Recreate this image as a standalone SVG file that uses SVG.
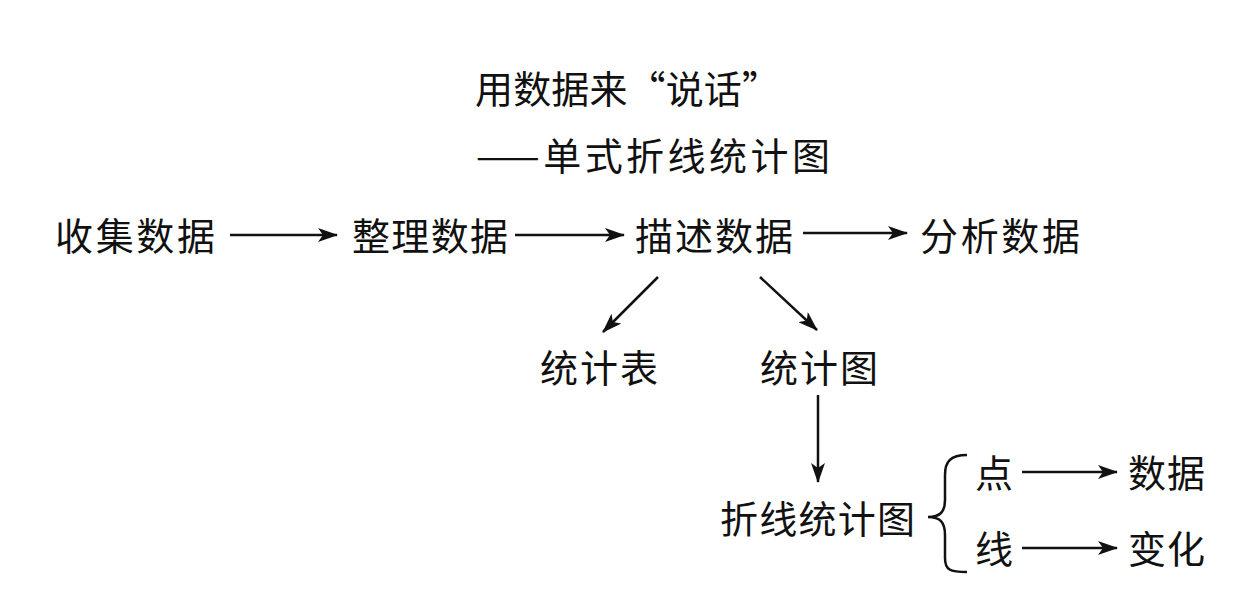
<svg xmlns="http://www.w3.org/2000/svg" width="1248" height="608" viewBox="0 0 1248 608">
<style>
text{font-family:"Noto Sans CJK SC","Noto Sans CJK JP",sans-serif;fill:#111;dominant-baseline:central;font-size:38px}
.c{stroke:#111;stroke-width:2.5;fill:none}
</style>
<defs>
<marker id="ah" viewBox="0 0 20 14" refX="19" refY="7" markerWidth="20" markerHeight="14" markerUnits="userSpaceOnUse" orient="auto">
<path d="M0,0 L20,7 L0,14 L5,7 Z" fill="#111"/>
</marker>
</defs>
<rect width="1248" height="608" fill="#fff"/>
<g id="title">
<text x="475" y="86" font-size="36" textLength="305">用数据来“说话”</text>
<text x="476" y="153" font-size="38" textLength="354">——单式折线统计图</text>
</g>
<g id="collect"><text x="55" y="233" textLength="160">收集数据</text></g>
<g id="organize"><text x="352" y="233" textLength="156">整理数据</text></g>
<g id="describe"><text x="635" y="233" textLength="158">描述数据</text></g>
<g id="analyze"><text x="920" y="233" textLength="160">分析数据</text></g>
<g id="table"><text x="540" y="365" textLength="118">统计表</text></g>
<g id="chart"><text x="760" y="365" textLength="118">统计图</text></g>
<g id="linechart"><text x="720" y="516" textLength="195">折线统计图</text></g>
<g id="point"><text x="975" y="470" textLength="37">点</text></g>
<g id="line"><text x="975" y="546" textLength="37">线</text></g>
<g id="data"><text x="1128" y="470" textLength="77">数据</text></g>
<g id="change"><text x="1128" y="546" textLength="77">变化</text></g>
<g id="connectors" class="c">
<line x1="230" y1="235" x2="337" y2="235" marker-end="url(#ah)"/>
<line x1="515" y1="235" x2="624" y2="235" marker-end="url(#ah)"/>
<line x1="803" y1="233" x2="907" y2="233" marker-end="url(#ah)"/>
<line x1="658" y1="277" x2="603" y2="332" marker-end="url(#ah)"/>
<line x1="760" y1="277" x2="817" y2="330" marker-end="url(#ah)"/>
<line x1="818" y1="395" x2="818" y2="482" marker-end="url(#ah)"/>
<line x1="1022" y1="472" x2="1117" y2="472" marker-end="url(#ah)"/>
<line x1="1022" y1="548" x2="1117" y2="548" marker-end="url(#ah)"/>
<path d="M967,455 C950,455 945,462 945,475 L945,500 C945,512 940,517 928,517 C940,517 945,522 945,535 L945,558 C945,570 950,572 967,572"/>
</g>
</svg>
